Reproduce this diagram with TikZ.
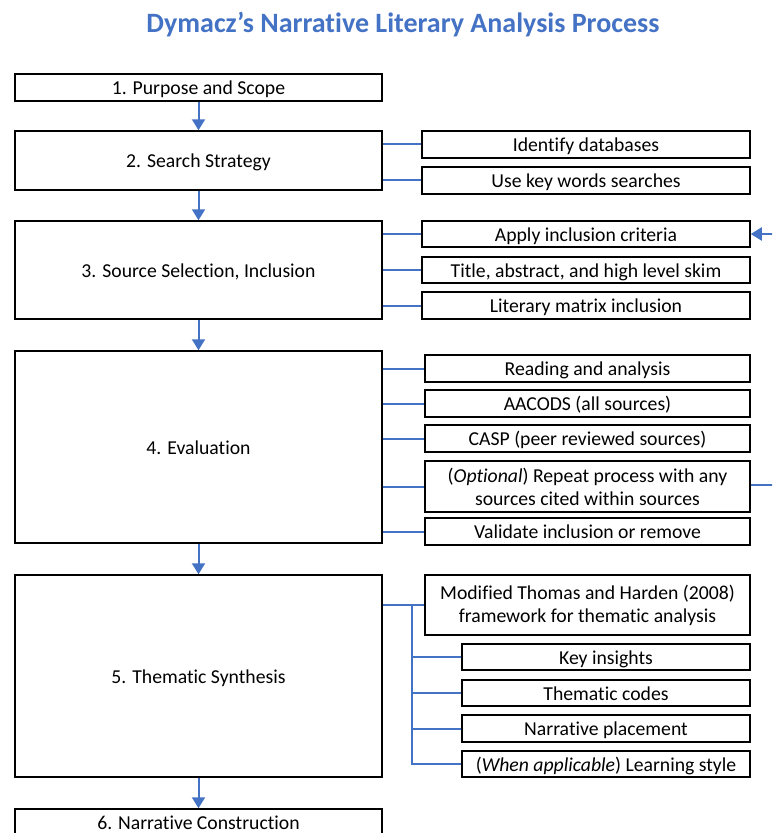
\documentclass[tikz,border=0pt]{standalone}
\usepackage{fontspec}
\setmainfont{Carlito}[Ligatures=NoCommon]
\usetikzlibrary{arrows.meta}
\definecolor{accent}{HTML}{4472C4}
\tikzset{
  box/.style={draw=black, line width=1.5pt, inner sep=0pt},
  boxtext/.style={inner sep=0pt, align=center, font=\fontsize{19.7}{23.5}\selectfont},
  conn/.style={draw=accent, line width=2pt},
  arr/.style={conn, -{Triangle[width=13pt,length=11pt]}},
}
% single-line box: name, x1, y1, x2, y2, text
\newcommand{\bx}[6]{%
  \node[box, minimum width=#4pt-#2pt, minimum height=#5pt-#3pt] (#1) at ({(#2+#4)/2},{(#3+#5)/2}) {};
  \node[boxtext, anchor=base] (#1t) at ([yshift=-7.2pt]#1.center) {#6};}
% two-line box
\newcommand{\bxm}[6]{%
  \node[box, minimum width=#4pt-#2pt, minimum height=#5pt-#3pt] (#1) at ({(#2+#4)/2},{(#3+#5)/2}) {};
  \node[boxtext] (#1t) at ([yshift=-0.5pt]#1.center) {#6};}
\begin{document}
\begin{tikzpicture}[x=1pt,y=-1pt]
\useasboundingbox (0,0) rectangle (772,833);
\clip (0,0) rectangle (772,833);
\node[font=\fontsize{28}{32}\selectfont\bfseries, text=accent, anchor=base, inner sep=0pt] (title) at (403,32) {Dymacz’s Narrative Literary Analysis Process};
% left column
\bx{b1}{15}{74}{382}{101}{1. Purpose and Scope}
\bx{b2}{15}{131}{382}{190}{2. Search Strategy}
\bx{b3}{15}{221}{382}{319}{3. Source Selection, Inclusion}
\bx{b4}{15}{351}{382}{543}{4. Evaluation}
\bx{b5}{15}{575}{382}{777}{5. Thematic Synthesis}
\bx{b6}{15}{809}{382}{836}{6. Narrative Construction}
% search strategy
\bx{s1}{422}{131}{750}{158}{Identify databases}
\bx{s2}{422}{167}{750}{194}{Use key words searches}
% source selection
\bx{c1}{422}{221}{750}{247}{Apply inclusion criteria}
\bx{c2}{422}{257}{750}{283}{Title, abstract, and high level skim}
\bx{c3}{422}{292}{750}{319}{Literary matrix inclusion}
% evaluation
\bx{e1}{425}{355}{750}{382}{Reading and analysis}
\bx{e2}{425}{390}{750}{417}{AACODS (all sources)}
\bx{e3}{425}{425}{750}{452}{CASP (peer reviewed sources)}
\bxm{e4}{425}{461}{750}{512}{(\textit{Optional}) Repeat process with any\\sources cited within sources}
\bx{e5}{425}{518}{750}{545}{Validate inclusion or remove}
% thematic synthesis
\bxm{t0}{425}{575}{750}{635}{Modified Thomas and Harden (2008)\\framework for thematic analysis}
\bx{t1}{462}{644}{750}{670}{Key insights}
\bx{t2}{462}{680}{750}{706}{Thematic codes}
\bx{t3}{462}{715}{750}{742}{Narrative placement}
\bx{t4}{462}{751}{750}{777}{(\textit{When applicable}) Learning style}
% down arrows
\foreach \a/\b in {b1/b2,b2/b3,b3/b4,b4/b5,b5/b6}
  \draw[arr] (\a.south) -- (\b.north);
% side connectors
\draw[conn] (b2.east |- 0,144) -- (s1.west |- 0,144);
\draw[conn] (b2.east |- 0,180) -- (s2.west |- 0,180);
\foreach \n in {c1,c2,c3,e1,e2,e3,e4,e5}
  \draw[conn] (\n.west -| b3.east) -- (\n.west);
\draw[conn] (t0.west -| b5.east) -- (t0.west);
\coordinate (br) at (412,604);
\foreach \n in {t1,t2,t3,t4}
  \draw[conn] (br) |- (\n.west);
% loop back (cut at picture edge)
\coordinate (loopin) at (775,234);
\coordinate (loopout) at (775,485);
\draw[arr] (loopin) -- (c1.east);
\draw[conn] (e4.east |- loopout) -- (loopout);
\end{tikzpicture}
\end{document}
